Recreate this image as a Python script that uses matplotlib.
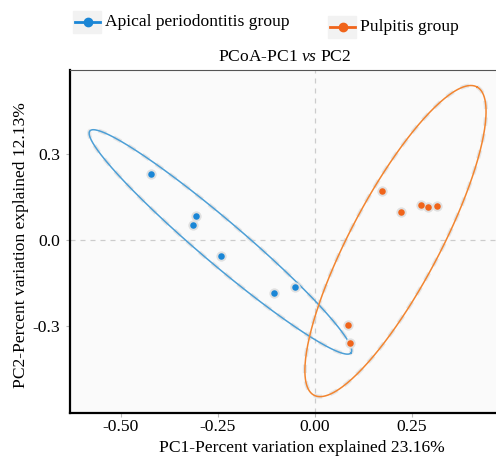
import numpy as np
import matplotlib
matplotlib.use("Agg")
import matplotlib.pyplot as plt
from matplotlib.lines import Line2D

plt.rcParams["font.family"] = ["Liberation Serif", "DejaVu Serif"]
plt.rcParams["axes.unicode_minus"] = False
plt.rcParams["mathtext.fontset"] = "custom"
plt.rcParams["mathtext.rm"] = "Liberation Serif"
plt.rcParams["mathtext.it"] = "Liberation Serif:italic"

# PCoA coordinates
apical_pc1 = [-0.423, -0.307, -0.314, -0.242, -0.106, -0.052]
apical_pc2 = [0.231, 0.082, 0.052, -0.056, -0.185, -0.164]
pulpitis_pc1 = [0.173, 0.221, 0.272, 0.291, 0.314, 0.084, 0.090]
pulpitis_pc2 = [0.171, 0.098, 0.122, 0.116, 0.117, -0.296, -0.359]

# confidence ellipses: centre, half major axis vector, conjugate half axis vector
apical_ellipse = [(-0.2435, -0.007), (0.3363, -0.3868), (0.0359, 0.0571)]
pulpitis_ellipse = [(0.2075, -0.004), (0.210, 0.537), (0.1018, -0.0735)]

group_names = ["Apical periodontitis group", "Pulpitis group"]
xticks = [-0.50, -0.25, 0.00, 0.25]
yticks = [0.3, 0.0, -0.3]

blue = "#1a86d6"
orange = "#f0641a"
blue_line = "#4d9fd6"
orange_line = "#f28530"
fs = 12.6


def ellipse_xy(params):
    (cx, cy), (ux, uy), (vx, vy) = params
    t = np.linspace(0, 2 * np.pi, 300)
    return cx + ux * np.cos(t) + vx * np.sin(t), cy + uy * np.cos(t) + vy * np.sin(t)


fig = plt.figure(figsize=(4.96, 4.57), dpi=100)
# right side of the panel is cut off in the original, so the axes run past the figure
ax = fig.add_axes([70 / 496, 44 / 457, 439 / 496, 343 / 457])
ax.set_xlim(-0.631, 0.5)
ax.set_ylim(-0.603, 0.592)
ax.set_facecolor("#fafafa")

ax.axvline(0, color="#cccccc", lw=0.9, ls=(0, (4, 4)), zorder=1)
ax.axhline(0, color="#cccccc", lw=0.9, ls=(0, (4, 4)), zorder=1)

for params, col in [(apical_ellipse, blue_line), (pulpitis_ellipse, orange_line)]:
    ex, ey = ellipse_xy(params)
    ax.plot(ex, ey, color="#d8d8d8", lw=3.0, ls=(0, (2, 2)), alpha=0.6, zorder=2)
    ax.plot(ex, ey, color=col, lw=1.1, zorder=3)

ax.scatter(apical_pc1, apical_pc2, s=55, color="#e0e0e0", lw=0, zorder=4)
ax.scatter(apical_pc1, apical_pc2, s=22, color=blue, lw=0, zorder=5)
ax.scatter(pulpitis_pc1, pulpitis_pc2, s=55, color="#e0e0e0", lw=0, zorder=4)
ax.scatter(pulpitis_pc1, pulpitis_pc2, s=22, color=orange, lw=0, zorder=5)

ax.set_xticks(xticks)
ax.set_xticklabels([f"{v:.2f}" for v in xticks])
ax.set_yticks(yticks)
ax.set_yticklabels([f"{v:.1f}" for v in yticks])
ax.tick_params(axis="both", labelsize=fs, color="#bbbbbb", length=3, width=0.8, pad=4)
ax.tick_params(axis="x", pad=1.5)

ax.spines["left"].set_linewidth(1.6)
ax.spines["bottom"].set_linewidth(1.6)
ax.spines["top"].set_linewidth(0.8)
ax.spines["top"].set_color("#555555")
ax.spines["right"].set_visible(False)

ax.set_xlabel("PC1-Percent variation explained 23.16%", fontsize=fs, va="center")
ax.xaxis.set_label_coords((302 - 70) / 439, -(448 - 413) / 343)
ax.set_ylabel("PC2-Percent variation explained 12.13%", fontsize=fs, va="center")
ax.yaxis.set_label_coords(-(70 - 21) / 439, 0.49)
fig.text(285 / 496, 1 - 57 / 457, r"PCoA-PC1 $\mathit{vs}$ PC2", fontsize=fs,
         ha="center", va="center")

# legend drawn by hand: the two entries sit at slightly different heights
legend_spots = [(75, 22), (330, 27)]
for name, col, (lx, ly) in zip(group_names, [blue, orange], legend_spots):
    y = 1 - ly / 457
    fig.patches.append(plt.Rectangle(((lx - 2) / 496, y - 11 / 457), 28 / 496, 22 / 457,
                                     transform=fig.transFigure, color="#f2f2f2", zorder=1))
    fig.add_artist(Line2D([lx / 496, (lx + 25) / 496], [y, y], color=col, lw=2,
                          transform=fig.transFigure, zorder=2))
    fig.add_artist(Line2D([(lx + 12.5) / 496], [y], color=col, marker="o", ms=6,
                          transform=fig.transFigure, zorder=3))
    fig.text((lx + 30) / 496, y, name, fontsize=fs, ha="left", va="center")

fig.savefig("out.png", dpi=100)
